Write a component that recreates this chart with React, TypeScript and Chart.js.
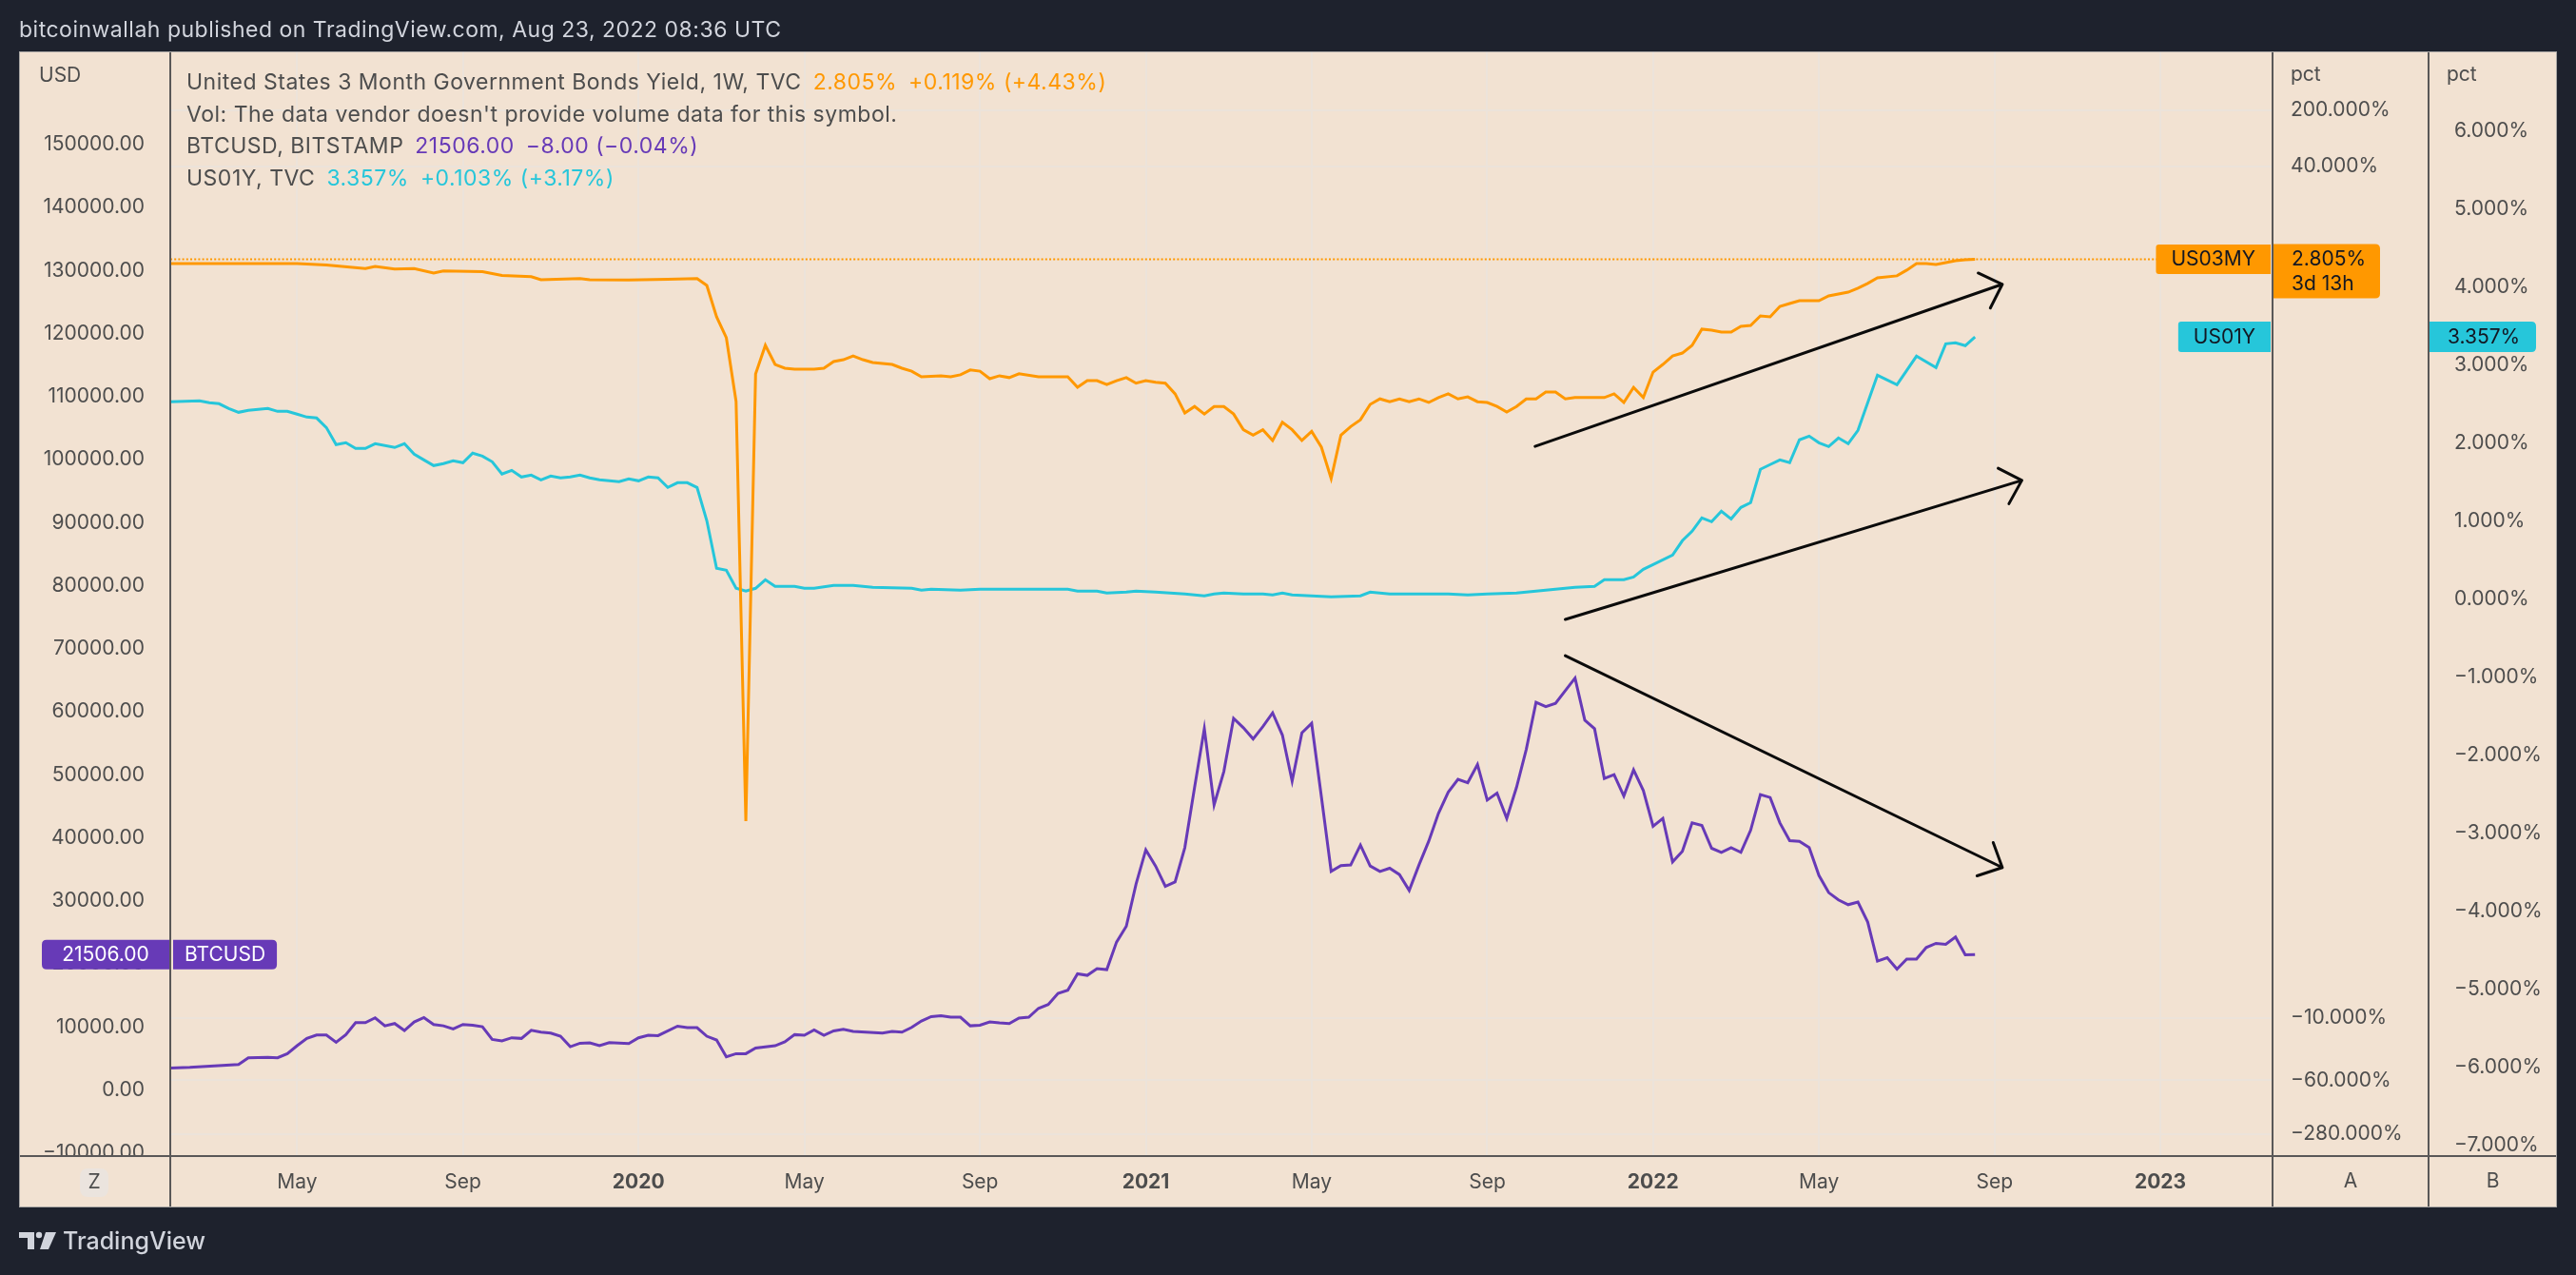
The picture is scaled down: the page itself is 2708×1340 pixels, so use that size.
import React, { useEffect, useRef } from 'react';
import { Chart, registerables, LinearScale } from 'chart.js';

Chart.register(...registerables);

// ---------------- data (weekly bars, first visible bar = FIRST_BAR) ----------------
const FIRST_BAR = '2019-02-04';

// US03MY weekly close, yield in %
const us03myYield: (number | null)[] = [
  2.48, null, null, null, null, null, null, null, null, null,
  null, null, null, 2.47, null, null, 2.37, null, null, null,
  2.14, 2.28, null, 2.11, null, 2.14, null, 1.89, 2.0, null,
  null, null, 1.96, null, 1.76, null, null, 1.7, 1.56, null,
  null, null, 1.61, 1.56, null, null, null, 1.54, null, null,
  null, 1.58, null, null, 1.61, 1.32, 0.537, 0.295, 0.0473, -0.0354,
  0.1045, 0.237, 0.137, 0.123, 0.12, null, 0.12, 0.123, 0.149, 0.157,
  0.175, 0.157, 0.145, null, 0.137, 0.123, 0.113, 0.096, null, 0.099,
  0.096, 0.102, 0.117, 0.113, 0.091, 0.099, 0.094, 0.105, null, 0.096,
  null, null, 0.096, 0.071, 0.086, 0.086, 0.077, 0.086, 0.094, 0.08,
  0.086, 0.082, 0.08, 0.059, 0.034, 0.041, 0.033, 0.041, 0.041, 0.033,
  0.021, 0.018, 0.021, 0.0154, 0.026, 0.021, 0.0154, 0.02, 0.0127, 0.0051,
  0.018, 0.023, 0.028, 0.0435, 0.051, 0.047, 0.051, 0.047, 0.051, 0.046,
  0.053, 0.059, 0.051, 0.054, 0.047, 0.046, 0.041, 0.035, 0.041, 0.051,
  0.051, 0.062, 0.062, 0.051, 0.053, null, null, 0.053, 0.059, 0.046,
  0.071, 0.053, 0.11, 0.137, 0.175, 0.19, 0.237, 0.377, 0.366, 0.347,
  0.347, 0.409, 0.42, 0.552, 0.537, 0.725, 0.787, 0.854, null, 0.854,
  0.979, null, 1.09, 1.22, 1.4, 1.64, null, 1.74, 2.05, 2.47,
  2.47, 2.41, 2.54, 2.69, 2.76, 2.805,
];

// US01Y weekly close, yield in %
const us01yYield: (number | null)[] = [
  2.524, null, null, 2.537, 2.512, 2.5, 2.439, 2.39, 2.415, null,
  2.439, 2.402, 2.402, 2.366, 2.329, 2.317, 2.195, 1.976, 2.0, 1.927,
  1.927, 1.988, null, 1.939, 1.988, 1.854, 1.78, 1.707, 1.732, 1.768,
  1.744, 1.866, 1.829, 1.756, 1.598, 1.646, 1.561, 1.585, 1.524, 1.573,
  1.549, 1.561, 1.585, 1.549, 1.524, null, 1.5, 1.537, 1.512, 1.561,
  1.549, 1.427, 1.488, 1.488, 1.427, 1.0, 0.39, 0.366, 0.134, 0.098,
  0.134, 0.244, 0.159, null, 0.159, 0.134, 0.134, null, 0.171, null,
  0.171, null, 0.146, null, null, null, 0.134, 0.11, 0.122, null,
  null, 0.11, null, 0.122, null, null, null, 0.122, null, null,
  null, null, 0.122, 0.098, null, 0.098, 0.073, null, 0.085, 0.098,
  null, 0.085, null, null, 0.061, null, 0.037, 0.061, 0.073, null,
  0.061, null, 0.061, 0.049, 0.073, 0.049, null, 0.037, null, 0.024,
  null, null, 0.037, 0.085, null, 0.061, null, 0.061, null, 0.061,
  null, 0.061, null, 0.049, null, 0.061, null, null, 0.073, null,
  0.098, null, 0.122, null, 0.146, null, 0.159, 0.244, null, 0.244,
  0.28, 0.378, 0.439, null, 0.561, 0.744, 0.866, 1.037, 0.988, 1.122,
  1.024, 1.171, 1.232, 1.659, 1.72, 1.78, 1.744, 2.037, 2.085, 2.0,
  1.951, 2.061, 1.988, 2.159, null, 2.866, null, 2.744, null, 3.11,
  null, 2.963, 3.268, 3.28, 3.244, 3.357,
];

// BTCUSD (Bitstamp) weekly close, USD
const btcusdClose: (number | null)[] = [
  3510, null, 3620, null, null, null, null, 4070, 5130, null,
  5180, 5130, 5780, 7040, 8200, 8750, 8750, 7590, 8800, 10710,
  10710, 11460, 10200, 10560, 9450, 10810, 11510, 10410, 10200, 9700,
  10410, 10300, 10060, 8040, 7800, 8300, 8200, 9500, 9200, 9050,
  8550, 6890, 7440, 7490, 7040, 7540, null, 7390, 8300, 8700,
  8650, null, 10150, 9910, 9910, 8550, 7950, 5280, 5780, 5780,
  6680, null, 7040, 7650, 8800, 8700, 9550, 8700, 9400, 9650,
  9300, null, null, 9050, 9300, 9200, 9950, 10960, 11660, 11810,
  11570, 11570, 10200, 10300, 10810, 10660, 10560, 11420, 11570, 12970,
  13570, 15340, 15840, 18450, 18200, 19260, 19110, 23480, 25990, 32680,
  38110, 35550, 32320, 33030, 38460, 48010, 57320, 45250, 50530, 58970,
  57470, 55700, 57660, 59830, 56310, 49020, 56670, 58170, 46500, 34690,
  35600, 35700, 38870, 35550, 34690, 35190, 34190, 31670, 35700, 39470,
  43890, 47260, 49280, 48760, 51630, 46000, 47100, 43090, 48010, 54040,
  61490, 60830, 61340, 63350, 65350, 58670, 57320, 49430, 50030, 46650,
  50780, 47510, 41830, 43090, 36200, 37860, 42380, 41980, 38360, 37710,
  38460, 37710, 41220, 46860, 46410, 42380, 39560, 39470, 38460, 34040,
  31330, 30170, 29410, 29820, 26650, 20470, 21010, 19200, 20770, 20770,
  22620, 23270, 23120, 24280, 21460, 21506,
];

const timeTickDates = [
  '2019-05-01', '2019-09-01', '2020-01-01', '2020-05-01', '2020-09-01', '2021-01-01',
  '2021-05-01', '2021-09-01', '2022-01-01', '2022-05-01', '2022-09-01', '2023-01-01',
];
const timeTickLabels = ['May', 'Sep', '2020', 'May', 'Sep', '2021', 'May', 'Sep', '2022', 'May', 'Sep', '2023'];
const usdTickValues = [
  -10000, 0, 10000, 20000, 30000, 40000, 50000, 60000, 70000, 80000,
  90000, 100000, 110000, 120000, 130000, 140000, 150000,
];
const us03TickValues = [200, 40, -10, -60, -280];
const us01TickValues = [6, 5, 4, 3, 2, 1, 0, -1, -2, -3, -4, -5, -6, -7];

const legendTitles = [
  'United States 3 Month Government Bonds Yield, 1W, TVC',
  "Vol: The data vendor doesn't provide volume data for this symbol.",
  'BTCUSD, BITSTAMP',
  'US01Y, TVC',
];
const changeTexts = ['+0.119% (+4.43%)', '\u22128.00 (\u22120.04%)', '+0.103% (+3.17%)'];
const us03Countdown = '3d 13h';
const headerText = 'bitcoinwallah published on TradingView.com, Aug 23, 2022 08:36 UTC';

// hand-drawn arrows (bar index, USD on the left scale)
const arrowFromBar = [139.9, 143.0, 143.0];
const arrowFromUsd = [102100, 74650, 68900];
const arrowToBar = [187.8, 189.8, 187.8];
const arrowToUsd = [127800, 96700, 35300];

// ---------------- layout / style ----------------
const W = 2708;
const H = 1340;
const PANEL = { l: 20, t: 54, r: 2688, b: 1269 };
const LEFT_AXIS_W = 159;
const AXIS_A_W = 164;
const AXIS_B_W = 135;
const TIME_AXIS_H = 54;
const FONT = 'Inter, "Noto Sans", Roboto, sans-serif';
const COL = {
  page: '#1e222d',
  panel: '#f2e2d2',
  grid: '#ece3da',
  sep: '#5a5858',
  border: '#a9a7a5',
  text: '#4d4d4d',
  head: '#d1d4dc',
  orange: '#ff9800',
  cyan: '#26c6da',
  purple: '#673ab7',
  boxText: '#131722',
  arrow: '#0b0b0b',
  button: '#ebe4de',
};

const WEEK_MS = 7 * 24 * 3600 * 1000;
const barOnOrAfter = (d: string) => Math.ceil((Date.parse(d) - Date.parse(FIRST_BAR)) / WEEK_MS);
const timeTickBars = timeTickDates.map(barOnOrAfter);

const tvLog = (v: number) => {
  const m = Math.abs(v);
  if (m < 1e-15) return 0;
  const r = Math.log10(m + 1e-4) + 4;
  return v < 0 ? -r : r;
};
const tvExp = (u: number) => {
  const m = Math.abs(u);
  if (m < 1e-15) return 0;
  const r = Math.pow(10, m - 4) - 1e-4;
  return u < 0 ? -r : r;
};
const fmt = (v: number, d: number) => v.toFixed(d).replace('-', '\u2212');
const lastOf = (a: (number | null)[]) => {
  for (let i = a.length - 1; i >= 0; i--) if (a[i] !== null) return a[i] as number;
  return 0;
};
const toPoints = (a: (number | null)[]) =>
  a.map((v, i) => ({ x: i, y: v })).filter((p) => p.y !== null);

// TradingView-style log price scale (handles values near/below zero)
class TvLogScale extends LinearScale {
  static id = 'tvlog';
  static defaults = {};
  determineDataLimits() {
    const o: any = this.options;
    (this as any).min = tvLog(o.min);
    (this as any).max = tvLog(o.max);
  }
  getPixelForValue(value: number) {
    return super.getPixelForValue(tvLog(value));
  }
  getValueForPixel(pixel: number) {
    return tvExp(super.getValueForPixel(pixel) as number);
  }
}
Chart.registry.addScales(TvLogScale as any);

function rr(ctx: CanvasRenderingContext2D, x: number, y: number, w: number, h: number, r: number[]) {
  const [tl, tr, br, bl] = r;
  ctx.beginPath();
  ctx.moveTo(x + tl, y);
  ctx.lineTo(x + w - tr, y);
  ctx.quadraticCurveTo(x + w, y, x + w, y + tr);
  ctx.lineTo(x + w, y + h - br);
  ctx.quadraticCurveTo(x + w, y + h, x + w - br, y + h);
  ctx.lineTo(x + bl, y + h);
  ctx.quadraticCurveTo(x, y + h, x, y + h - bl);
  ctx.lineTo(x, y + tl);
  ctx.quadraticCurveTo(x, y, x + tl, y);
  ctx.closePath();
}

const setSpacing = (ctx: any, v: string) => {
  if ('letterSpacing' in ctx) ctx.letterSpacing = v;
};

const decorPlugin = {
  id: 'tvDecor',
  beforeDraw(chart: any) {
    const ctx: CanvasRenderingContext2D = chart.ctx;
    ctx.save();
    ctx.fillStyle = COL.page;
    ctx.fillRect(0, 0, W, H);
    ctx.fillStyle = COL.panel;
    ctx.fillRect(PANEL.l, PANEL.t, PANEL.r - PANEL.l, PANEL.b - PANEL.t);
    ctx.textBaseline = 'middle';
    ctx.textAlign = 'left';
    ctx.fillStyle = COL.head;
    ctx.font = `23px ${FONT}`;
    setSpacing(ctx, '0.5px');
    ctx.fillText(headerText, 20, 32);
    setSpacing(ctx, '0px');
    // footer logo
    ctx.fillStyle = COL.head;
    ctx.fillRect(20, 1295, 16, 6);
    ctx.fillRect(29, 1295, 7, 18);
    ctx.beginPath();
    ctx.arc(41, 1298, 3.2, 0, Math.PI * 2);
    ctx.fill();
    ctx.beginPath();
    ctx.moveTo(48, 1295);
    ctx.lineTo(59, 1295);
    ctx.lineTo(51, 1313);
    ctx.lineTo(42, 1313);
    ctx.closePath();
    ctx.fill();
    ctx.font = `500 25px ${FONT}`;
    ctx.fillText('TradingView', 66, 1305);
    ctx.restore();
  },
  beforeDatasetsDraw(chart: any) {
    const ctx: CanvasRenderingContext2D = chart.ctx;
    const ca = chart.chartArea;
    const yO = chart.scales.yA.getPixelForValue(lastOf(us03myYield));
    ctx.save();
    ctx.beginPath();
    ctx.setLineDash([2, 2.2]);
    ctx.strokeStyle = COL.orange;
    ctx.lineWidth = 2;
    ctx.moveTo(ca.left, yO);
    ctx.lineTo(ca.right, yO);
    ctx.stroke();
    ctx.restore();
  },
  afterDatasetsDraw(chart: any) {
    const ctx: CanvasRenderingContext2D = chart.ctx;
    const sx = chart.scales.x;
    const sL = chart.scales.yL;
    ctx.save();
    ctx.strokeStyle = COL.arrow;
    ctx.lineWidth = 3;
    ctx.lineCap = 'round';
    ctx.lineJoin = 'round';
    for (let i = 0; i < arrowFromBar.length; i++) {
      const x0 = sx.getPixelForValue(arrowFromBar[i]);
      const y0 = sL.getPixelForValue(arrowFromUsd[i]);
      const x1 = sx.getPixelForValue(arrowToBar[i]);
      const y1 = sL.getPixelForValue(arrowToUsd[i]);
      ctx.beginPath();
      ctx.moveTo(x0, y0);
      ctx.lineTo(x1, y1);
      const ang = Math.atan2(y1 - y0, x1 - x0);
      const head = 28;
      const spread = 0.77;
      ctx.moveTo(x1 + head * Math.cos(ang + Math.PI - spread), y1 + head * Math.sin(ang + Math.PI - spread));
      ctx.lineTo(x1, y1);
      ctx.lineTo(x1 + head * Math.cos(ang + Math.PI + spread), y1 + head * Math.sin(ang + Math.PI + spread));
      ctx.stroke();
    }
    ctx.restore();
  },
  afterDraw(chart: any) {
    const ctx: CanvasRenderingContext2D = chart.ctx;
    const ca = chart.chartArea;
    const last03 = lastOf(us03myYield);
    const last01 = lastOf(us01yYield);
    const lastBtc = lastOf(btcusdClose);
    const yO = chart.scales.yA.getPixelForValue(last03);
    const yC = chart.scales.yB.getPixelForValue(last01);
    const yP = chart.scales.yL.getPixelForValue(lastBtc);
    const axisBLeft = ca.right + AXIS_A_W;
    ctx.save();
    // hide price-axis label spill into the time-scale row
    ctx.fillStyle = COL.panel;
    ctx.fillRect(PANEL.l + 1, ca.bottom + 1, ca.left - PANEL.l - 1, PANEL.b - ca.bottom - 2);
    ctx.fillRect(ca.right + 1, ca.bottom + 1, PANEL.r - ca.right - 2, PANEL.b - ca.bottom - 2);

    ctx.textBaseline = 'middle';
    ctx.textAlign = 'left';
    ctx.font = `21px ${FONT}`;
    ctx.fillStyle = COL.text;
    ctx.fillText('USD', 41, 80);
    ctx.fillText('pct', ca.right + 19, 79);
    ctx.fillText('pct', axisBLeft + 19, 79);

    ctx.fillStyle = COL.button;
    rr(ctx, 84, 1228, 30, 30, [9, 9, 9, 9]);
    ctx.fill();
    ctx.fillStyle = COL.text;
    ctx.textAlign = 'center';
    ctx.fillText('Z', 99, 1243);
    ctx.fillText('A', ca.right + AXIS_A_W / 2, 1242);
    ctx.fillText('B', axisBLeft + AXIS_B_W / 2, 1242);

    // legend
    const rows: [string, string][][] = [
      [[legendTitles[0], COL.text], [fmt(last03, 3) + '%', COL.orange], [changeTexts[0], COL.orange]],
      [[legendTitles[1], COL.text]],
      [[legendTitles[2], COL.text], [lastBtc.toFixed(2), COL.purple], [changeTexts[1], COL.purple]],
      [[legendTitles[3], COL.text], [fmt(last01, 3) + '%', COL.cyan], [changeTexts[2], COL.cyan]],
    ];
    const rowY = [87, 121, 154, 188];
    ctx.textAlign = 'left';
    ctx.font = `23px ${FONT}`;
    setSpacing(ctx, '0.5px');
    rows.forEach((row, r) => {
      let x = ca.left + 17;
      row.forEach(([t, c]) => {
        ctx.fillStyle = c;
        ctx.fillText(t, x, rowY[r]);
        x += ctx.measureText(t).width + 12;
      });
    });
    setSpacing(ctx, '0px');

    // price tags
    ctx.font = `21px ${FONT}`;
    const tag = (text: string, x: number, y: number, w: number, h: number, bg: string, fg: string, r: number[], align: 'center' | 'left', tx?: number) => {
      ctx.fillStyle = bg;
      rr(ctx, x, y, w, h, r);
      ctx.fill();
      ctx.fillStyle = fg;
      ctx.textAlign = align;
      ctx.fillText(text, align === 'center' ? x + w / 2 : (tx as number), y + h / 2 + 0.5);
    };
    // US03MY
    const w03 = ctx.measureText('US03MY').width + 32;
    tag('US03MY', ca.right - 2 - w03, yO - 15.5, w03, 31, COL.orange, COL.boxText, [3, 0, 0, 3], 'center');
    ctx.fillStyle = COL.orange;
    rr(ctx, ca.right + 1, yO - 16, 112, 57, [0, 5, 5, 0]);
    ctx.fill();
    ctx.fillStyle = COL.boxText;
    ctx.textAlign = 'left';
    ctx.fillText(fmt(last03, 3) + '%', ca.right + 20, yO + 0.5);
    ctx.fillText(us03Countdown, ca.right + 20, yO + 26.5);
    // US01Y
    const w01 = ctx.measureText('US01Y').width + 32;
    tag('US01Y', ca.right - 2 - w01, yC - 16, w01, 32, COL.cyan, COL.boxText, [3, 0, 0, 3], 'center');
    tag(fmt(last01, 3) + '%', axisBLeft + 1, yC - 16, 112, 32, COL.cyan, COL.boxText, [0, 5, 5, 0], 'left', axisBLeft + 20);
    // BTCUSD
    tag(lastBtc.toFixed(2), 44, yP - 15.5, ca.left - 1 - 44, 31, COL.purple, '#ffffff', [5, 0, 0, 5], 'center');
    const wB = ctx.measureText('BTCUSD').width + 24;
    tag('BTCUSD', ca.left + 3, yP - 15.5, wB, 31, COL.purple, '#ffffff', [0, 5, 5, 0], 'center');

    // pane separators
    ctx.strokeStyle = COL.sep;
    ctx.lineWidth = 2;
    ctx.beginPath();
    ctx.moveTo(ca.left, PANEL.t);
    ctx.lineTo(ca.left, PANEL.b);
    ctx.moveTo(ca.right, PANEL.t);
    ctx.lineTo(ca.right, PANEL.b);
    ctx.moveTo(axisBLeft, PANEL.t);
    ctx.lineTo(axisBLeft, PANEL.b);
    ctx.moveTo(PANEL.l, ca.bottom);
    ctx.lineTo(PANEL.r, ca.bottom);
    ctx.stroke();
    ctx.strokeStyle = COL.border;
    ctx.lineWidth = 1;
    ctx.strokeRect(PANEL.l + 0.5, PANEL.t + 0.5, PANEL.r - PANEL.l - 1, PANEL.b - PANEL.t - 1);
    ctx.restore();
  },
};

const axisFont = { family: FONT, size: 21 };

export default function App() {
  const ref = useRef<HTMLCanvasElement>(null);
  useEffect(() => {
    document.body.style.margin = '0';
    document.body.style.background = COL.page;
    Chart.defaults.font.family = FONT;
    const canvas = ref.current as HTMLCanvasElement;
    const chart = new Chart(canvas, {
      type: 'line',
      data: {
        datasets: [
          {
            label: 'US03MY',
            yAxisID: 'yA',
            data: toPoints(us03myYield) as any,
            borderColor: COL.orange,
            borderWidth: 3,
            pointRadius: 0,
            tension: 0,
            order: 0,
          },
          {
            label: 'US01Y',
            yAxisID: 'yB',
            data: toPoints(us01yYield) as any,
            borderColor: COL.cyan,
            borderWidth: 3,
            pointRadius: 0,
            tension: 0,
            order: 1,
          },
          {
            label: 'BTCUSD',
            yAxisID: 'yL',
            data: toPoints(btcusdClose) as any,
            borderColor: COL.purple,
            borderWidth: 3,
            pointRadius: 0,
            tension: 0,
            order: 2,
          },
        ],
      },
      options: {
        animation: false,
        responsive: false,
        events: [],
        layout: { padding: { left: PANEL.l, right: W - PANEL.r, top: PANEL.t + 1, bottom: H - PANEL.b } },
        plugins: { legend: { display: false }, tooltip: { enabled: false } },
        scales: {
          x: {
            type: 'linear',
            position: 'bottom',
            min: 0,
            max: 215.5,
            bounds: 'data',
            afterBuildTicks: (s: any) => {
              s.ticks = timeTickBars.map((v) => ({ value: v }));
            },
            afterFit: (s: any) => {
              s.height = TIME_AXIS_H;
            },
            ticks: {
              autoSkip: false,
              maxRotation: 0,
              padding: 15,
              color: COL.text,
              font: (c: any) => ({
                family: FONT,
                size: 21,
                weight: /^\d{4}$/.test(timeTickLabels[c.index] || '') ? 'bold' : 'normal',
              }),
              callback: (_v: any, i: number) => timeTickLabels[i],
            },
            grid: { display: true, color: COL.grid, lineWidth: 2, drawTicks: false },
            border: { display: false },
          } as any,
          yL: {
            type: 'linear',
            position: 'left',
            min: -10457,
            max: 164584,
            bounds: 'data',
            afterBuildTicks: (s: any) => {
              s.ticks = usdTickValues.map((v) => ({ value: v }));
            },
            afterFit: (s: any) => {
              s.width = LEFT_AXIS_W;
            },
            ticks: {
              autoSkip: false,
              padding: 19,
              color: COL.text,
              font: axisFont,
              callback: (v: any) => fmt(Number(v), 2),
            },
            grid: { display: false },
            border: { display: false },
          } as any,
          yA: {
            type: 'tvlog',
            position: 'right',
            weight: 0,
            min: -525,
            max: 1056,
            bounds: 'data',
            afterBuildTicks: (s: any) => {
              s.ticks = us03TickValues.map((v) => ({ value: v }));
            },
            afterFit: (s: any) => {
              s.width = AXIS_A_W;
            },
            ticks: {
              autoSkip: false,
              padding: 19,
              color: COL.text,
              font: axisFont,
              callback: (v: any) => fmt(Number(v), 3) + '%',
            },
            grid: { display: true, color: COL.grid, lineWidth: 2, drawTicks: false },
            border: { display: false },
          } as any,
          yB: {
            type: 'linear',
            position: 'right',
            weight: 1,
            min: -7.143,
            max: 7.004,
            bounds: 'data',
            afterBuildTicks: (s: any) => {
              s.ticks = us01TickValues.map((v) => ({ value: v }));
            },
            afterFit: (s: any) => {
              s.width = AXIS_B_W;
            },
            ticks: {
              autoSkip: false,
              padding: 19,
              color: COL.text,
              font: axisFont,
              callback: (v: any) => fmt(Number(v), 3) + '%',
            },
            grid: { display: false },
            border: { display: false },
          } as any,
        },
      } as any,
      plugins: [decorPlugin],
    });
    return () => chart.destroy();
  }, []);
  return (
    <div style={{ position: 'fixed', left: 0, top: 0, width: W, height: H, background: COL.page }}>
      <canvas ref={ref} width={W} height={H} style={{ display: 'block', width: W, height: H }} />
    </div>
  );
}
